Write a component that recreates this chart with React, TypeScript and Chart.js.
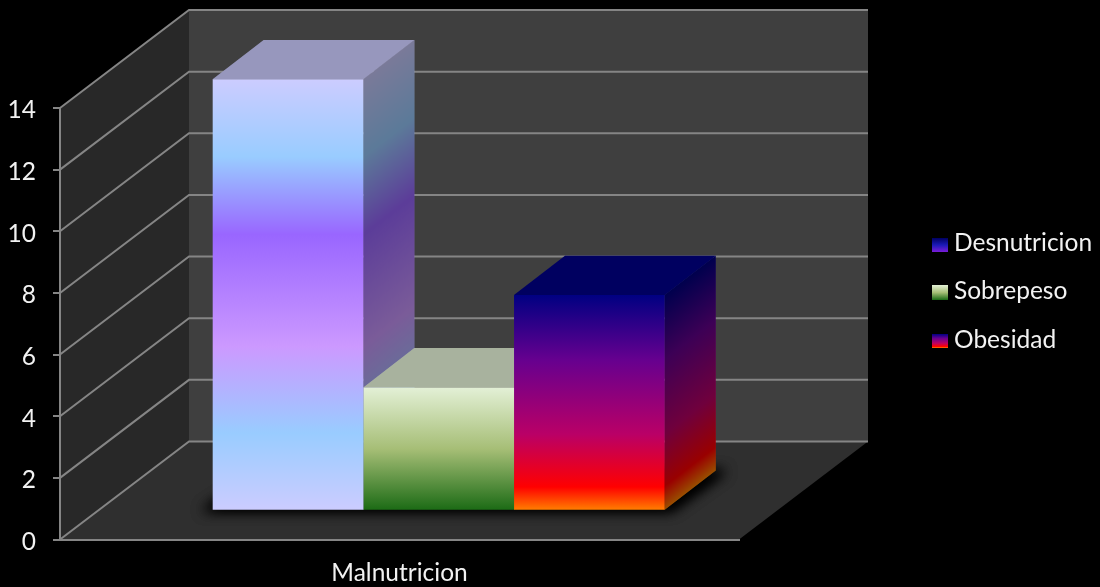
import { useEffect, useRef } from "react";
import { Chart, registerables } from "chart.js";

Chart.register(...registerables);

// Chart data
const categories = ["Malnutricion"];
const seriesNames = ["Desnutricion", "Sobrepeso", "Obesidad"];
const desnutricion = [14];
const sobrepeso = [4];
const obesidad = [7];

// Fill ramps: [offset, colour] from the top of a bar to its base
type Stops = [number, string][];
const desnutricionRamp: Stops = [
  [0, "#CCCCFF"], [0.18, "#99CCFF"], [0.36, "#9966FF"], [0.62, "#CC99FF"], [0.82, "#99CCFF"], [1, "#CCCCFF"],
];
const sobrepesoRamp: Stops = [[0, "#E3F0D6"], [0.5, "#A6BE76"], [1, "#1A6A14"]];
const obesidadRamp: Stops = [
  [0, "#000082"], [0.3, "#66008F"], [0.647, "#BA0066"], [0.89, "#FF0000"], [1, "#FF8200"],
];
const desnutricionSwatch: Stops = [[0, "#000060"], [0.5, "#1A1AB8"], [1, "#7A1CD8"]];
const ramps = [desnutricionRamp, sobrepesoRamp, obesidadRamp];
const swatches = [desnutricionSwatch, sobrepesoRamp, obesidadRamp];

// Oblique projection of the chart box
const BOX_DX = 129;
const BOX_DY = 98;
const BAR_PLANE_DX = 39.2;
const BAR_PLANE_DY = 28.8;
const BAR_DX = 51;
const BAR_DY = 39.3;

const FONT = "Lato";
const FONT_SIZE = 24.5;
const TEXT = "#F2F2F2";
const GRID = "#858585";
const GRID_WIDTH = 2;
const LABEL_DROP = 2.5;

function ramp(ctx: CanvasRenderingContext2D, stops: Stops, top: number, bottom: number) {
  const g = ctx.createLinearGradient(0, top, 0, bottom);
  stops.forEach(([o, c]) => g.addColorStop(o, c));
  return g;
}

function poly(ctx: CanvasRenderingContext2D, pts: number[][], fill: string) {
  ctx.beginPath();
  pts.forEach(([x, y], i) => (i ? ctx.lineTo(x, y) : ctx.moveTo(x, y)));
  ctx.closePath();
  ctx.fillStyle = fill;
  ctx.fill();
}

// Side wall, back wall, floor and the gridlines that run along them
const walls = {
  id: "walls",
  beforeDraw(chart: any) {
    const { ctx, scales } = chart;
    const { x, y } = scales;
    const l = x.left, r = x.right, b = y.getPixelForValue(0), t = y.getPixelForValue(14);
    ctx.save();
    ctx.fillStyle = "#000";
    ctx.fillRect(0, 0, chart.width, chart.height);
    poly(ctx, [[l + BOX_DX, t - BOX_DY], [r + BOX_DX, t - BOX_DY], [r + BOX_DX, b - BOX_DY], [l + BOX_DX, b - BOX_DY]], "#3F3F3F");
    poly(ctx, [[l, b], [l + BOX_DX, b - BOX_DY], [l + BOX_DX, t - BOX_DY], [l, t]], "#282828");
    poly(ctx, [[l, b], [r, b], [r + BOX_DX, b - BOX_DY], [l + BOX_DX, b - BOX_DY]], "#2F2F2F");
    ctx.strokeStyle = GRID;
    ctx.lineWidth = GRID_WIDTH;
    y.ticks.forEach((tick: any) => {
      const py = y.getPixelForValue(tick.value);
      ctx.beginPath();
      ctx.moveTo(l, py);
      ctx.lineTo(l + BOX_DX, py - BOX_DY);
      ctx.lineTo(r + BOX_DX, py - BOX_DY);
      ctx.stroke();
    });
    ctx.restore();

    // Value labels sit a little below their tick marks
    y.getLabelItems().forEach((item: any) => {
      if (!item.dropped) {
        item.options.translation[1] += LABEL_DROP;
        item.dropped = true;
      }
    });
  },
};

// Depth faces of the bars; the front faces come from the bar elements themselves
const bars3d = {
  id: "bars3d",
  beforeDatasetsDraw(chart: any) {
    const { ctx } = chart;
    const metas = chart.getSortedVisibleDatasetMetas();
    ctx.save();
    ctx.translate(BAR_PLANE_DX, -BAR_PLANE_DY);

    // Soft contact shadow on the floor; only the blur of the off-canvas shape shows
    const firstBar = metas[0].data[0];
    const lastBar = metas[metas.length - 1].data[0];
    const bl = firstBar.x - firstBar.width / 2;
    const br = lastBar.x + lastBar.width / 2;
    const base = firstBar.base;
    const away = 3000;
    ctx.save();
    ctx.shadowColor = "rgba(0,0,0,1)";
    ctx.shadowBlur = 13;
    ctx.shadowOffsetX = away;
    ctx.shadowOffsetY = 0;
    const shadowPts = [
      [bl - 11 - away, base + 1],
      [br + 6 - away, base + 1],
      [br + BAR_DX + 11 - away, base - BAR_DY],
      [bl + BAR_DX - away, base - BAR_DY],
    ];
    poly(ctx, shadowPts, "#000");
    poly(ctx, shadowPts, "#000");
    ctx.restore();

    metas.forEach((meta: any, i: number) => {
      const el = meta.data[0];
      const left = el.x - el.width / 2;
      const right = el.x + el.width / 2;
      const stops = ramps[i];

      // Side face: the ramp is sheared along the depth direction
      ctx.save();
      ctx.transform(1, -BAR_DY / BAR_DX, 0, 1, right, 0);
      ctx.fillStyle = ramp(ctx, stops, el.y, el.base);
      ctx.fillRect(0, el.y, BAR_DX, el.base - el.y);
      ctx.fillStyle = "rgba(0,0,0,0.4)";
      ctx.fillRect(0, el.y, BAR_DX, el.base - el.y);
      ctx.restore();

      // Top face
      const topPts = [[left, el.y], [right, el.y], [right + BAR_DX, el.y - BAR_DY], [left + BAR_DX, el.y - BAR_DY]];
      poly(ctx, topPts, stops[0][1]);
      poly(ctx, topPts, "rgba(0,0,0,0.26)");
    });
  },
  afterDatasetsDraw(chart: any) {
    chart.ctx.restore();
  },
  afterDraw(chart: any) {
    const { ctx } = chart;
    const rows = [
      { top: 238, h: 14, mid: 243.5 },
      { top: 285, h: 15, mid: 291.5 },
      { top: 334, h: 14, mid: 340 },
    ];
    ctx.save();
    ctx.font = `${FONT_SIZE}px ${FONT}`;
    ctx.textBaseline = "middle";
    ctx.textAlign = "left";
    chart.data.datasets.forEach((ds: any, i: number) => {
      const row = rows[i];
      ctx.fillStyle = ramp(ctx, swatches[i], row.top, row.top + row.h);
      ctx.fillRect(932, row.top, 16, row.h);
      ctx.fillStyle = TEXT;
      ctx.fillText(ds.label, 954, row.mid);
    });
    ctx.restore();
  },
};

function barFill(stops: Stops) {
  return (c: any) => {
    const { chart, raw } = c;
    const y = chart.scales.y;
    const top = y ? y.getPixelForValue(raw) : NaN;
    const bottom = y ? y.getPixelForValue(0) : NaN;
    if (!Number.isFinite(top) || !Number.isFinite(bottom)) return stops[0][1];
    return ramp(chart.ctx, stops, top, bottom);
  };
}

export default function App() {
  const canvasRef = useRef<HTMLCanvasElement>(null);

  useEffect(() => {
    document.body.style.background = "#000";
    const chart = new Chart(canvasRef.current!, {
      type: "bar",
      data: {
        labels: categories,
        datasets: [desnutricion, sobrepeso, obesidad].map((data, i) => ({
          label: seriesNames[i],
          data,
          backgroundColor: barFill(ramps[i]),
          borderWidth: 0,
          clip: false as any,
          categoryPercentage: 0.6657,
          barPercentage: 1,
        })),
      },
      options: {
        responsive: false,
        animation: false,
        devicePixelRatio: 1,
        layout: { padding: { top: 108, right: 361, left: 0, bottom: 0 } },
        plugins: { legend: { display: false }, tooltip: { enabled: false } },
        scales: {
          x: {
            afterFit: (s: any) => { s.height = 47.5; },
            grid: { display: false },
            border: { display: true, color: GRID, width: GRID_WIDTH },
            ticks: { color: TEXT, font: { family: FONT, size: FONT_SIZE }, padding: 11, maxRotation: 0 },
          },
          y: {
            min: 0,
            max: 14,
            afterFit: (s: any) => { s.width = 60; },
            grid: { drawOnChartArea: false, drawTicks: true, tickLength: 7, color: GRID, lineWidth: GRID_WIDTH },
            border: { display: true, color: GRID, width: GRID_WIDTH },
            ticks: { stepSize: 2, color: TEXT, font: { family: FONT, size: FONT_SIZE }, padding: 17 },
          },
        },
      },
      plugins: [walls, bars3d],
    });
    return () => chart.destroy();
  }, []);

  return (
    <div style={{ position: "fixed", left: 0, top: 0, width: 1100, height: 587, background: "#000" }}>
      <canvas ref={canvasRef} width={1100} height={587} style={{ display: "block" }} />
    </div>
  );
}
